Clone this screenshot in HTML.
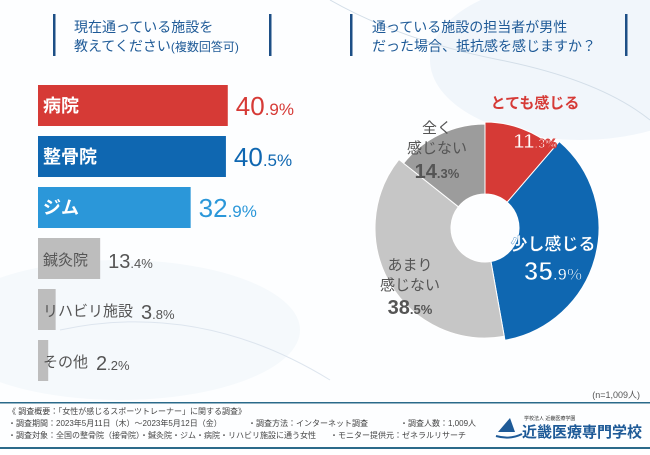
<!DOCTYPE html>
<html><head><meta charset="utf-8">
<style>
html,body{margin:0;padding:0;}
body{width:650px;height:450px;overflow:hidden;background:#fff;font-family:"Liberation Sans","Noto Sans CJK JP",sans-serif;}
svg text{font-family:"Liberation Sans","Noto Sans CJK JP",sans-serif;}
</style></head>
<body>
<svg id="c" width="650" height="450" viewBox="0 0 650 450" xmlns="http://www.w3.org/2000/svg">
<rect width="650" height="450" fill="#fdfeff"/>
<ellipse cx="580" cy="60" rx="150" ry="80" fill="#f1f6fb"/>
<ellipse cx="120" cy="330" rx="180" ry="70" fill="#f5f9fc"/>
<path d="M330 0 Q400 40 500 60 T650 120" stroke="#d3dee8" fill="none"/>
<path d="M60 330 Q200 300 330 380" stroke="#dde5ee" fill="none"/>
<g>
<rect x="53" y="14" width="2.5" height="42" fill="#1d4f86"/>
<rect x="269" y="14" width="2.5" height="42" fill="#1d4f86"/>
<text x="74" y="32" font-size="14" fill="#1e5a97">現在通っている施設を</text>
<text x="74" y="51" font-size="14" fill="#1e5a97">教えてください<tspan font-size="12">(複数回答可)</tspan></text>
</g>
<g>
<rect x="350" y="14" width="2.5" height="42" fill="#1d4f86"/>
<rect x="625" y="14" width="2.5" height="42" fill="#1d4f86"/>
<text x="372" y="32" font-size="14" fill="#1e5a97">通っている施設の担当者が男性</text>
<text x="372" y="51" font-size="14" fill="#1e5a97">だった場合、抵抗感を感じますか？</text>
</g>
<g id="bars"></g>
<g id="pie"></g>
<text x="640" y="398" font-size="9" text-anchor="end" fill="#555">(n=1,009人)</text>
<rect x="0" y="402" width="650" height="1.5" fill="#2a6a8a"/>
<rect x="0" y="447" width="650" height="2" fill="#2a6a8a"/>
<g font-size="8" fill="#444">
<text x="8" y="414">《 調査概要：「女性が感じるスポーツトレーナー」に関する調査》</text>
<text x="8" y="426">・調査期間：2023年5月11日（木）～2023年5月12日（金）</text>
<text x="248" y="426">・調査方法：インターネット調査</text>
<text x="400" y="426">・調査人数：1,009人</text>
<text x="8" y="438">・調査対象：全国の整骨院（接骨院）・鍼灸院・ジム・病院・リハビリ施設に通う女性</text>
<text x="330" y="438">・モニター提供元：ゼネラルリサーチ</text>
</g>
<g>
<path d="M498 432 L515 432 L510 418 Z" fill="#1e5a97"/>
<path d="M496 436 Q510 440 522 434" stroke="#1e5a97" stroke-width="2" fill="none"/>
<text x="524" y="420" font-size="5" fill="#333">学校法人 近畿医療学園</text>
<text x="522" y="437" font-size="15" font-weight="bold" fill="#1e5a97">近畿医療専門学校</text>
</g>
</svg>
<script>
const barCategories=["病院","整骨院","ジム","鍼灸院","リハビリ施設","その他"];
const barValues=[40.9,40.5,32.9,13.4,3.8,2.2];
const barColors=["#d63a36","#0f67b1","#2b97d9","#bdbdbd","#bdbdbd","#bdbdbd"];
const pieLabels=[["とても感じる"],["少し感じる"],["あまり","感じない"],["全く","感じない"]];
const pieValues=[11.3,35.9,38.5,14.3];
const NS="http://www.w3.org/2000/svg";
function mk(tag,attrs,parent){const e=document.createElementNS(NS,tag);for(const k in attrs)e.setAttribute(k,attrs[k]);parent.appendChild(e);return e;}
const xScale=v=>v*4.64;
const bars=document.getElementById('bars');
barCategories.forEach((cat,i)=>{
  const y=85+i*51, w=xScale(barValues[i]);
  const r=mk('rect',{x:38,y:y,width:w,height:41,fill:barColors[i]},bars);
  
  
  const big=i<3;
  const t=mk('text',{x:43,y:y+27,'font-size':big?18:15,'font-weight':big?'bold':'normal',fill:big?'#fff':'#555'},bars);
  t.textContent=cat;
  
  
  const lw=t.getComputedTextLength();
  const vx=Math.max(38+w,43+lw)+8;
  const v=mk('text',{x:vx,y:y+30,'font-size':big?26:20,fill:big?barColors[i]:'#555'},bars);
  const s=barValues[i].toFixed(1).split('.');
  v.innerHTML=s[0]+'<tspan font-size="'+(big?17:13)+'">.'+s[1]+'%</tspan>';
  
  
});
const pie=document.getElementById('pie');
const cx=485,cy=228,ri=34;
const pieColors=["#d63a36","#0f67b1","#c6c6c6","#9c9c9c"];
const pieR=[106,114,110,104];
const total=pieValues.reduce((a,b)=>a+b,0);
let a0=-Math.PI/2;
pieValues.forEach((v,i)=>{
  const a1=a0+v/total*2*Math.PI, R=pieR[i];
  const large=(a1-a0)>Math.PI?1:0;
  const p=(r,a)=>[cx+r*Math.cos(a),cy+r*Math.sin(a)];
  const [x0,y0]=p(R,a0),[x1,y1]=p(R,a1),[x2,y2]=p(ri,a1),[x3,y3]=p(ri,a0);
  const path=mk('path',{d:`M${x0} ${y0} A${R} ${R} 0 ${large} 1 ${x1} ${y1} L${x2} ${y2} A${ri} ${ri} 0 ${large} 0 ${x3} ${y3}Z`,fill:pieColors[i],stroke:'#fff','stroke-width':1},pie);
  
  
  a0=a1;
});
// label positions: [x, firstLineY, valueY, labelColor, valueColor, valueStroke]
const labelPos=[[535,108,148,'#d63a36','#fff','#d63a36'],[553,250,280,'#fff','#fff','#0f67b1'],[410,270,314,'#555','#555','none'],[437,133,178,'#555','#555','none']];
pieLabels.forEach((lines,i)=>{
  const [x,y,vy,c1,c2,st]=labelPos[i];
  const g=mk('g',{},pie);
  
  
  lines.forEach((ln,j)=>{const t=mk('text',{x:x,y:y+j*20,'font-size':i===1?17:15,'text-anchor':'middle',fill:c1,'font-weight':i<2?'bold':'normal',stroke:i===1?'#0f67b1':'none','stroke-width':0.3},g);t.textContent=ln;});
  const s=pieValues[i].toFixed(1).split('.');
  const vt=mk('text',{x:x,y:vy,'font-size':i===1?26:20,'text-anchor':'middle',fill:c2,'font-weight':'bold',stroke:st,'stroke-width':1},g);
  vt.innerHTML=s[0]+'<tspan font-size="'+(i===1?17:13)+'">.'+s[1]+'%</tspan>';
});
</script>
</body></html>
